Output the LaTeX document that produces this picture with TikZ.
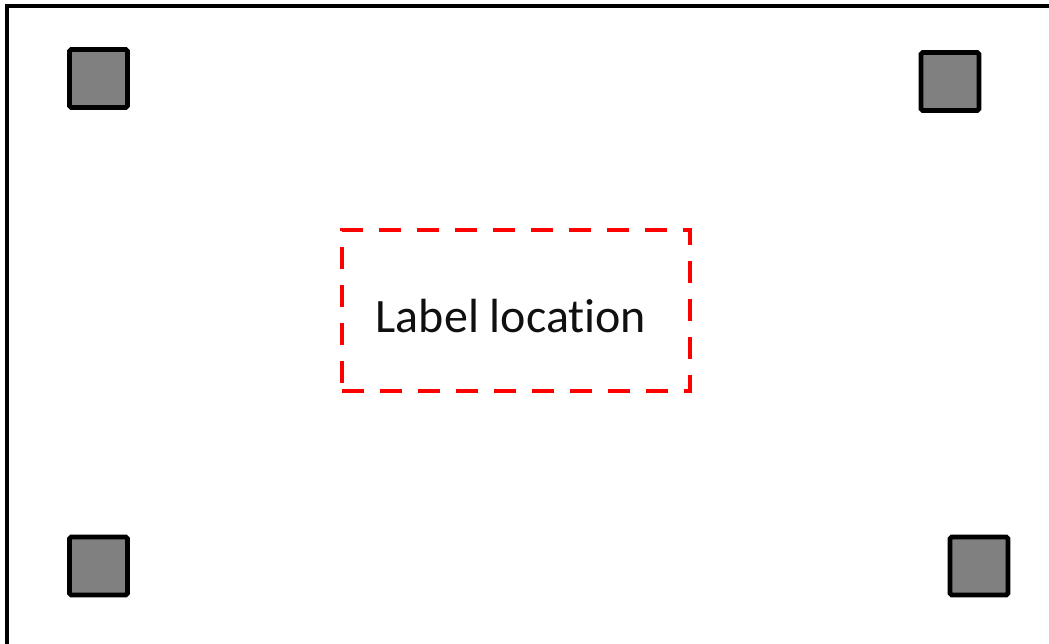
\documentclass[tikz,border=0pt]{standalone}
\usepackage{fontspec}
\setmainfont[Ligatures={NoCommon}]{Carlito}
\usetikzlibrary{positioning}
\definecolor{padgray}{HTML}{808080}
\definecolor{labelred}{HTML}{FF0000}
\definecolor{labelink}{HTML}{101010}
\tikzset{
  board frame/.style={
    draw=black,
    line width=2.7pt,
  },
  pad box/.style={
    rounded corners=1pt,
    draw=black,
    line width=2.7pt,
    fill=padgray,
    minimum width=1.16cm,
    minimum height=1.16cm,
    inner sep=0pt,
  },
  label box/.style={
    draw=labelred,
    line width=2.7pt,
    dash pattern=on 0.44cm off 0.32cm,
    minimum width=6.96cm,
    minimum height=3.22cm,
    inner sep=0pt,
  },
}

\begin{document}
\begin{tikzpicture}

  \useasboundingbox (0,0) rectangle (20.98cm,12.86cm);

  % --- Board outline (runs off the right and bottom edges) ---
  \begin{scope}
    \clip (0,0) rectangle (20.98cm,12.86cm);
    \draw[board frame] (0.14cm,-0.08cm) rectangle (21.3cm,12.74cm);
  \end{scope}

  % --- Corner pads ---
  \node[pad box] (padtl) at (1.97cm, 11.29cm) {};
  \node[pad box] (padtr) at (19.00cm, 11.23cm) {};
  \node[pad box] (padbl) at (1.97cm, 1.54cm) {};
  \node[pad box] (padbr) at (19.58cm, 1.54cm) {};

  % --- Label area ---
  \node[label box] (labelbox) at (10.32cm, 6.65cm) {};
  \node[font=\fontsize{27.3}{31}\selectfont, text=labelink, inner sep=0pt]
    (labeltext) at (10.22cm, 6.54cm) {Label location};

\end{tikzpicture}
\end{document}
